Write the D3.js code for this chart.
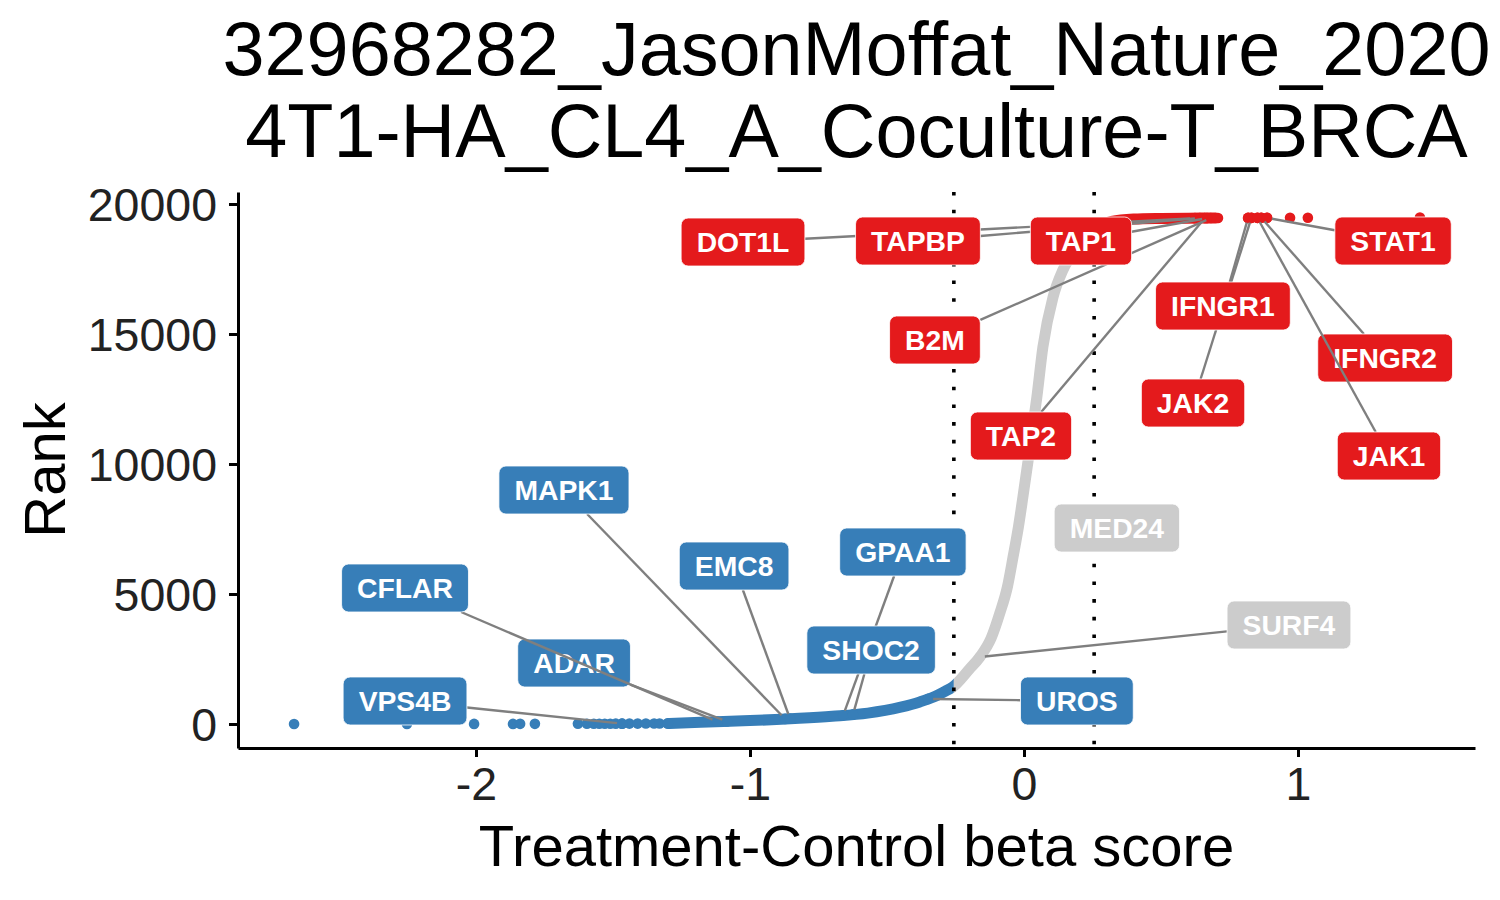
<!DOCTYPE html>
<html><head><meta charset="utf-8">
<script src="https://cdn.jsdelivr.net/npm/d3@7"></script>
<style>
body{margin:0;background:#fff}
svg{display:block}
text{font-family:"Liberation Sans",Arial,Helvetica,sans-serif}
</style>
</head><body>
<svg id="chart" width="1500" height="900"></svg>
<script>
// ---------------- data ----------------
const titleLines = ["32968282_JasonMoffat_Nature_2020", "4T1-HA_CL4_A_Coculture-T_BRCA"];
const xLabel = "Treatment-Control beta score";
const yLabel = "Rank";
const xTicks = [-2, -1, 0, 1];
const yTicks = [0, 5000, 10000, 15000, 20000];
const cutoffs = [-0.256, 0.256];

// isolated genes at the negative tail
const tailScores = [-2.664, -2.252, -2.007, -1.865, -1.839, -1.785, -1.628, -1.595, -1.570, -1.550,
                    -1.530, -1.510, -1.490, -1.467, -1.440, -1.410, -1.380, -1.350, -1.330, -1.300];
const tailRanks = [1, 2, 3, 4, 5, 6, 7, 8, 9, 10, 11, 12, 13, 14, 15, 16, 17, 18, 19, 20];

// dense body of the ranking curve
const curveScores = [-1.300, -1.180, -1.000, -0.820, -0.700, -0.570, -0.450, -0.380, -0.330, -0.290,
                     -0.260, -0.200, -0.161, -0.120, -0.088, -0.060, -0.040, -0.020, -0.004, 0.022,
                     0.047, 0.069, 0.106, 0.142, 0.204, 0.260, 0.320, 0.400, 0.500, 0.600, 0.700];
const curveRanks = [20, 70, 130, 220, 300, 420, 650, 850, 1040, 1250,
                    1420, 2100, 2577, 3300, 4270, 5300, 6420, 7600, 8730, 10650,
                    12580, 14500, 16420, 17460, 18420, 19050, 19330, 19420, 19445, 19455, 19462];

// isolated genes at the positive tail
const headScores = [0.708, 0.818, 0.830, 0.852, 0.866, 0.887, 0.971, 1.036, 1.445];
const headRanks = [19462, 19466, 19467, 19468, 19469, 19470, 19472, 19474, 19478];

// labelled genes (drawing order)
const geneNames  = ["VPS4B", "ADAR", "CFLAR", "MAPK1", "EMC8", "GPAA1", "SHOC2", "UROS", "SURF4", "MED24",
                    "TAP2", "B2M", "DOT1L", "TAPBP", "TAP1", "JAK2", "IFNGR1", "IFNGR2", "JAK1", "STAT1"];
const geneScores = [-1.467, -1.084, -1.120, -0.872, -0.854, -0.660, -0.624, -0.350, -0.161, 0.040,
                    0.660, 0.682, 0.624, 0.642, 0.668, 0.830, 0.818, 0.866, 0.852, 0.887];
const geneRanks  = [14, 100, 90, 197, 205, 337, 370, 965, 2577, 12000,
                    19458, 19460, 19456, 19457, 19459, 19467, 19466, 19469, 19468, 19470];
const geneGroups = ["down", "down", "down", "down", "down", "down", "down", "down", "ns", "ns",
                    "up", "up", "up", "up", "up", "up", "up", "up", "up", "up"];
const geneSegment = [true, true, true, true, true, true, true, true, true, false,
                     true, true, true, true, true, true, true, true, true, true];
// repelled label placement (data units)
const labelScores = [-2.259, -1.642, -2.259, -1.679, -1.058, -0.442, -0.558, 0.193, 0.967, 0.339,
                     -0.011, -0.325, -1.0255, -0.387, 0.208, 0.617, 0.726, 1.318, 1.332, 1.347];
const labelRanks  = [885, 2346, 5231, 9000, 6077, 6615, 2846, 885, 3808, 7538,
                     11077, 14769, 18538, 18577, 18577, 12346, 16077, 14077, 10308, 18577];

// ---------------- styles ----------------
const colors = {down: "#377EB8", ns: "#CCCCCC", up: "#E41A1C"};

const svg = d3.select("#chart");
const W = 1500, H = 900;
const panel = {left: 238, right: 1475, top: 192, bottom: 748};

const x = d3.scaleLinear().domain([-2.8686, 1.6460]).range([panel.left, panel.right]);
const y = d3.scaleLinear().domain([-923, 20462]).range([panel.bottom, panel.top]);

const groupOf = s => s < cutoffs[0] ? "down" : (s > cutoffs[1] ? "up" : "ns");

// clip paths for colouring the curve by cutoff
const defs = svg.append("defs");
const clipRanges = {
  down: [panel.left - 20, x(cutoffs[0])],
  ns: [x(cutoffs[0]), x(cutoffs[1])],
  up: [x(cutoffs[1]), panel.right + 20]
};
Object.entries(clipRanges).forEach(([k, r]) => {
  defs.append("clipPath").attr("id", "clip-" + k)
    .append("rect").attr("x", r[0]).attr("y", 0).attr("width", r[1] - r[0]).attr("height", H);
});

// ---------------- points ----------------
const gPts = svg.append("g");
const curveData = curveScores.map((s, i) => [s, curveRanks[i]]);
const line = d3.line().x(d => x(d[0])).y(d => y(d[1])).curve(d3.curveMonotoneX);
["down", "ns", "up"].forEach(k => {
  gPts.append("path").attr("d", line(curveData))
    .attr("fill", "none").attr("stroke", colors[k]).attr("stroke-width", 11)
    .attr("stroke-linecap", "round").attr("stroke-linejoin", "round")
    .attr("clip-path", "url(#clip-" + k + ")");
});
const dots = tailScores.map((s, i) => [s, tailRanks[i]])
  .concat(headScores.map((s, i) => [s, headRanks[i]]))
  .concat(geneScores.map((s, i) => [s, geneRanks[i]]).filter((d, i) => geneSegment[i]));
gPts.selectAll("circle").data(dots).join("circle")
  .attr("cx", d => x(d[0])).attr("cy", d => y(d[1])).attr("r", 5.3)
  .attr("fill", d => colors[groupOf(d[0])]);

// ---------------- cutoff lines ----------------
svg.append("g").selectAll("line").data(cutoffs).join("line")
  .attr("x1", d => x(d)).attr("x2", d => x(d))
  .attr("y1", panel.top).attr("y2", panel.bottom)
  .attr("stroke", "#000").attr("stroke-width", 3.6)
  .attr("stroke-dasharray", "3.6 14.1");

// ---------------- axes ----------------
const xAxis = svg.append("g").attr("transform", `translate(0,${panel.bottom})`)
  .call(d3.axisBottom(x).tickValues(xTicks).tickSizeOuter(0).tickSizeInner(9).tickPadding(10).tickFormat(d3.format("d")));
const yAxis = svg.append("g").attr("transform", `translate(${panel.left},0)`)
  .call(d3.axisLeft(y).tickValues(yTicks).tickSizeOuter(0).tickSizeInner(9).tickPadding(12).tickFormat(d => String(d)));
[xAxis, yAxis].forEach(a => {
  a.select(".domain").attr("stroke", "#000").attr("stroke-width", 3);
  a.selectAll(".tick line").attr("stroke", "#000").attr("stroke-width", 3);
  a.selectAll(".tick text").attr("fill", "#222").attr("font-size", 46.5)
    .attr("font-family", "'Liberation Sans', Arial, sans-serif");
});
xAxis.selectAll(".tick text").text(d => d < 0 ? "-" + Math.abs(d) : String(d));
yAxis.selectAll(".tick text").attr("dy", "0.36em");

// axis titles
svg.append("text").attr("x", (panel.left + panel.right) / 2).attr("y", 866)
  .attr("text-anchor", "middle").attr("font-size", 58).attr("fill", "#000").text(xLabel);
svg.append("text").attr("transform", `translate(65,${(panel.top + panel.bottom) / 2}) rotate(-90)`)
  .attr("text-anchor", "middle").attr("font-size", 58).attr("fill", "#000").text(yLabel);

// title
svg.append("g").selectAll("text").data(titleLines).join("text")
  .attr("x", (panel.left + panel.right) / 2).attr("y", (d, i) => 75 + i * 82)
  .attr("text-anchor", "middle").attr("font-size", 75.6).attr("fill", "#000").text(d => d);

// ---------------- repelled labels ----------------
const gLab = svg.append("g");
geneNames.forEach((name, i) => {
  const g = gLab.append("g");
  const cx = x(labelScores[i]), cy = y(labelRanks[i]);
  const px = x(geneScores[i]), py = y(geneRanks[i]);
  const segG = g.append("g");
  const rect = g.append("rect");
  const t = g.append("text").attr("x", cx).attr("y", cy + 10)
    .attr("text-anchor", "middle").attr("font-size", 28.3).attr("font-weight", "bold")
    .attr("fill", "#fff").text(name);
  const tw = t.node().getComputedTextLength();
  const bw = tw + 31, bh = 48;
  rect.attr("x", cx - bw / 2).attr("y", cy - bh / 2).attr("width", bw).attr("height", bh)
    .attr("rx", 7).attr("ry", 7).attr("fill", colors[geneGroups[i]])
    .attr("stroke", "#fff").attr("stroke-width", 0.8);
  if (geneSegment[i]) {
    const dx = px - cx, dy = py - cy;
    const tt = Math.min(dx === 0 ? Infinity : (bw / 2) / Math.abs(dx), dy === 0 ? Infinity : (bh / 2) / Math.abs(dy));
    if (tt < 1) {
      const sx = cx + dx * tt, sy = cy + dy * tt;
      const len = Math.hypot(px - sx, py - sy);
      const pad = 5;
      const ex = px - (px - sx) / len * pad, ey = py - (py - sy) / len * pad;
      segG.append("line").attr("x1", sx).attr("y1", sy).attr("x2", ex).attr("y2", ey)
        .attr("stroke", "#7F7F7F").attr("stroke-width", 2.4);
    }
  }
});
</script>
</body></html>
